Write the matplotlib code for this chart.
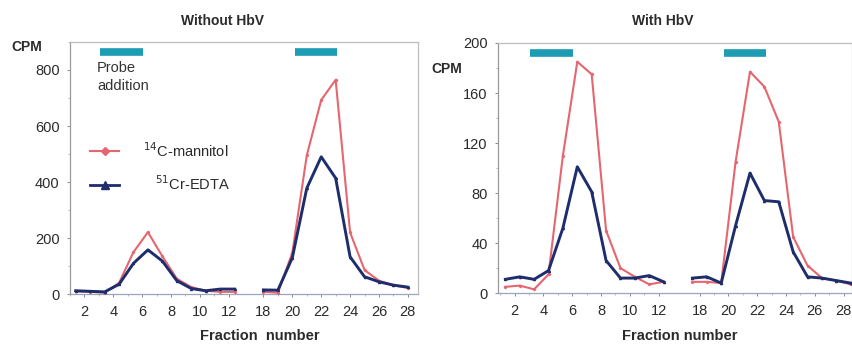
import matplotlib
matplotlib.use("Agg")
import matplotlib.pyplot as plt
import numpy as np
from matplotlib.lines import Line2D

plt.rcParams['font.family'] = ['Liberation Sans', 'DejaVu Sans']

# fractions and CPM values, without HbV
frac_a1 = [1, 2, 3, 4, 5, 6, 7, 8, 9, 10, 11, 12]
frac_a2 = [18, 19, 20, 21, 22, 23, 24, 25, 26, 27, 28]
mannitol_a1 = [10, 8, 5, 40, 150, 221, 135, 55, 25, 12, 8, 8]
mannitol_a2 = [8, 5, 148, 495, 693, 765, 220, 86, 48, 32, 22]
edta_a1 = [12, 10, 8, 35, 110, 158, 118, 48, 20, 12, 18, 18]
edta_a2 = [15, 14, 130, 378, 490, 414, 133, 62, 44, 32, 25]

# fractions and CPM values, with HbV
frac_b1 = [1, 2, 3, 4, 5, 6, 7, 8, 9, 10, 11, 12]
frac_b2 = [17, 18, 19, 20, 21, 22, 23, 24, 25, 26, 27, 28]
mannitol_b1 = [5, 6, 3, 15, 110, 185, 175, 50, 20, 13, 7, 9]
mannitol_b2 = [9, 9, 8, 105, 177, 165, 137, 45, 22, 12, 10, 7]
edta_b1 = [11, 13, 11, 18, 52, 101, 81, 26, 12, 12, 14, 9]
edta_b2 = [12, 13, 8, 54, 96, 74, 73, 33, 13, 12, 10, 8]

# probe addition windows (fraction ranges)
probe_a = [(2.7, 5.64), (20.2, 23.1)]
probe_b = [(2.7, 5.7), (19.2, 22.1)]

tick_fracs_1 = [2, 4, 6, 8, 10, 12]
tick_fracs_2 = [18, 20, 22, 24, 26, 28]

RED = '#e5666f'
BLUE = '#1e2d6b'
CYAN = '#1c9db3'
GREY = '#bdbdbd'
TXT = '#2b2b2b'


def slot(frac, seg2_start, gap_slot):
    # fractions 1..12 fill slots 0..11, second run starts after an empty slot
    frac = np.asarray(frac, dtype=float)
    return np.where(frac >= seg2_start, frac - seg2_start + gap_slot, frac - 1)


def panel(ax, f1, f2, m1, m2, e1, e2, probes, ymax, ystep, yminor, bar_y,
          seg2_start, lab_off1, lab_off2, xlim):
    pos = lambda f: slot(f, seg2_start, 13)
    for f, m, e in [(f1, m1, e1), (f2, m2, e2)]:
        ax.plot(pos(f), m, color=RED, lw=1.5, marker='D', ms=1.2, zorder=3)
        ax.plot(pos(f), e, color=BLUE, lw=2.1, marker='^', ms=1.5, zorder=4)
    for a, b in probes:
        ax.plot([pos(a), pos(b)], [bar_y, bar_y], color=CYAN, lw=5.5,
                solid_capstyle='butt', zorder=5)
    ax.set_xlim(*xlim)
    ax.set_ylim(0, ymax)
    ax.set_yticks(np.arange(0, ymax + 1, ystep))
    ax.set_yticks(np.arange(0, ymax + 1, yminor), minor=True)
    ticks = list(pos(tick_fracs_1) + lab_off1) + list(pos(tick_fracs_2) + lab_off2)
    ax.set_xticks(ticks)
    ax.set_xticklabels([str(t) for t in tick_fracs_1 + tick_fracs_2])
    minor = list(pos(frac_b1) + lab_off1) + list(pos(frac_b2[1:]) + lab_off2)
    ax.set_xticks(minor, minor=True)
    ax.tick_params(axis='both', which='major', length=2.5, width=0.6,
                   color='#777777', labelsize=10.5, labelcolor=TXT, pad=5)
    ax.tick_params(axis='both', which='minor', length=1.5, width=0.5, color='#999999')
    for s in ax.spines.values():
        s.set_color(GREY)
        s.set_linewidth(0.9)
    ax.spines['left'].set_color('#999999')
    ax.spines['bottom'].set_color('#9aa6bd')


fig = plt.figure(figsize=(8.53, 3.44), dpi=100)
ax1 = fig.add_axes([0.082, 0.145, 0.408, 0.733])
ax2 = fig.add_axes([0.584, 0.148, 0.415, 0.727])

panel(ax1, frac_a1, frac_a2, mannitol_a1, mannitol_a2, edta_a1, edta_a2,
      probe_a, 900, 200, 100, 864, 18, -0.4, 0.0, (-0.2, 23.7))
panel(ax2, frac_b1, frac_b2, mannitol_b1, mannitol_b2, edta_b1, edta_b2,
      probe_b, 200, 40, 20, 192, 17, -0.35, -0.5, (-0.5, 24.1))

# legend on the left panel
handles = [Line2D([], [], color=RED, lw=1.5, marker='D', ms=4.5),
           Line2D([], [], color=BLUE, lw=2.0, marker='^', ms=6)]
ax1.legend(handles, [r'$^{14}$C-mannitol', r'   $^{51}$Cr-EDTA'],
           loc='upper left', bbox_to_anchor=(0.02, 0.66), frameon=False,
           fontsize=10.5, handlelength=2.0, handletextpad=1.6,
           labelspacing=1.0, labelcolor=TXT)

ax1.text(0.078, 0.925, 'Probe\naddition', transform=ax1.transAxes,
         ha='left', va='top', fontsize=10.5, color='#333333', linespacing=1.35)

fig.text(223 / 853, 1 - 21 / 344, 'Without HbV', ha='center', va='center',
         fontsize=10, fontweight='bold', color=TXT)
fig.text(663 / 853, 1 - 21 / 344, 'With HbV', ha='center', va='center',
         fontsize=10, fontweight='bold', color=TXT)
fig.text(27 / 853, 1 - 47 / 344, 'CPM', ha='center', va='center',
         fontsize=10, fontweight='bold', color=TXT)
fig.text(447 / 853, 1 - 69 / 344, 'CPM', ha='center', va='center',
         fontsize=10, fontweight='bold', color=TXT)
fig.text(260 / 853, 1 - 336 / 344, 'Fraction  number', ha='center', va='center',
         fontsize=10.5, fontweight='bold', color=TXT)
fig.text(680 / 853, 1 - 336 / 344, 'Fraction number', ha='center', va='center',
         fontsize=10.5, fontweight='bold', color=TXT)

fig.savefig('out.png', dpi=100)
